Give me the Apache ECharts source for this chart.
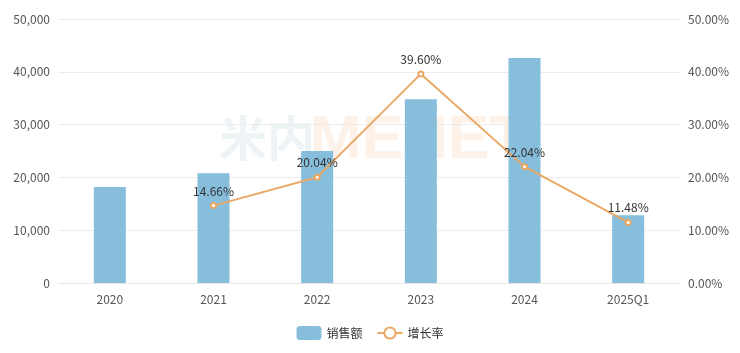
<!DOCTYPE html>
<html><head><meta charset="utf-8">
<script src="https://cdn.jsdelivr.net/npm/echarts@6/dist/echarts.min.js"></script>
<style>html,body{margin:0;padding:0;background:#fff}#c{width:740px;height:353px}</style>
</head><body><div id="c"></div>
<script>
const categories = ['2020','2021','2022','2023','2024','2025Q1'];
const sales = [18200, 20800, 25000, 34800, 42600, 12850];
const growth = [null, 14.66, 20.04, 39.60, 22.04, 11.48];
const chart = echarts.init(document.getElementById('c'));
chart.setOption({
  animation:false,
  textStyle:{fontFamily:'"Noto Sans CJK SC","Noto Sans",sans-serif'},
  grid:{left:58,right:60,top:19,bottom:70},
  graphic:[
    {type:'text',left:219,top:114,z:-10,style:{text:'米内',fontSize:48,fontWeight:'bold',fill:'#eef4f6',fontFamily:'"Noto Sans CJK SC",sans-serif'}},
    {type:'text',left:310,top:110,z:-10,style:{text:'MENET',fontSize:62,fontWeight:'bold',fill:'#fdf1e8',fontFamily:'"Liberation Sans",Arial,sans-serif'}}
  ],
  legend:{bottom:8,itemGap:14,itemWidth:25,itemHeight:14,textStyle:{color:'#333',fontSize:12},
    data:[{name:'销售额'},{name:'增长率'}]},
  xAxis:{type:'category',data:categories,axisTick:{show:false},
    axisLine:{lineStyle:{color:'#e6e6e6'}},axisLabel:{color:'#555',fontSize:12,margin:10}},
  yAxis:[
    {type:'value',min:0,max:50000,interval:10000,axisLine:{show:false},axisTick:{show:false},
     splitLine:{lineStyle:{color:'#ececec'}},
     axisLabel:{color:'#555',fontSize:12,formatter:v=>v.toLocaleString('en-US')}},
    {type:'value',min:0,max:50,interval:10,axisLine:{show:false},axisTick:{show:false},
     splitLine:{show:false},axisLabel:{color:'#555',fontSize:12,formatter:v=>v.toFixed(2)+'%'}}
  ],
  series:[
    {name:'销售额',type:'bar',data:sales,barWidth:32,itemStyle:{color:'#86bedc'}},
    {name:'增长率',type:'line',yAxisIndex:1,data:growth,symbol:'emptyCircle',symbolSize:5,
     lineStyle:{color:'#eaa966',width:2},itemStyle:{color:'#eaa966'},
     label:{show:true,position:'top',color:'#333',fontSize:12,formatter:p=>p.value.toFixed(2)+'%'}}
  ]
});
</script></body></html>
